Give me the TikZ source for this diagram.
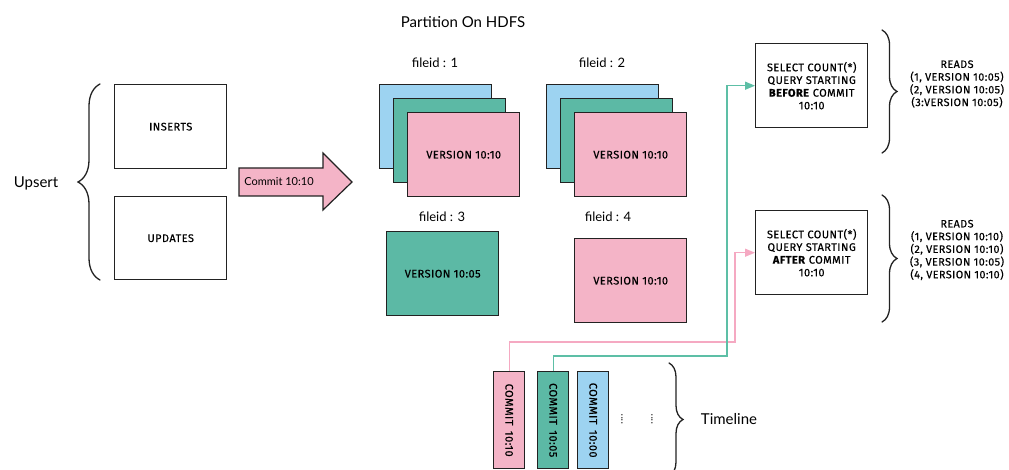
\documentclass[tikz,border=0pt]{standalone}
\usepackage{fontspec}
\setmainfont{Lato}
\newfontfamily\capsfont{Fira Sans}[LetterSpace=4, FakeBold=0.4]
\usetikzlibrary{decorations.pathreplacing,arrows.meta}

\definecolor{skyfill}{HTML}{9DD3F1}
\definecolor{tealfill}{HTML}{5CB9A5}
\definecolor{rosefill}{HTML}{F4B4C7}
\definecolor{roseline}{HTML}{F5A9C2}
\definecolor{tealline}{HTML}{5DBFA6}
\definecolor{ink}{HTML}{222222}

\tikzset{
  box/.style={draw=ink, line width=1.4pt, anchor=north west, inner sep=0pt, align=center},
  filebox/.style={box, minimum width=112pt, minimum height=84pt},
  commitbox/.style={box, minimum width=31pt, minimum height=97pt},
  caps/.style={font=\capsfont\fontsize{11}{12.7}\selectfont},
  readscaps/.style={font=\capsfont\fontsize{10.8}{12.7}\selectfont, align=center},
  title/.style={font=\fontsize{15}{18}\selectfont},
  label/.style={font=\fontsize{13}{15}\selectfont},
  curly/.style={draw=ink, line width=1.3pt, line cap=round, decorate, decoration={brace, amplitude=#1}},
  link/.style={line width=1.3pt, -{Triangle[length=10pt,width=8pt]}},
  ellip/.style={rotate=90, font=\fontsize{11}{11}\selectfont, text=ink},
}

\begin{document}
\begin{tikzpicture}[x=1pt,y=-1pt]
\useasboundingbox (0,0) rectangle (1009,470);

% --- incoming writes -------------------------------------------------
\node[title] (upsert) at (36,183) {Upsert};
\draw[curly=22] (100,280) -- (100,84);
\node[box, minimum width=112pt, minimum height=84pt, caps] (inserts) at (114,84) {INSERTS};
\node[box, minimum width=112pt, minimum height=83pt, caps] (updates) at (114,196) {UPDATES};

% commit arrow
\draw[draw=ink, line width=1.2pt, fill=rosefill, line join=miter]
  (239,168) -- (323,168) -- (323,153) -- (352,182) -- (323,210) -- (323,196) -- (239,196) -- cycle;
\node[font=\fontsize{11}{13}\selectfont] (commitlbl) at (279,182) {Commit 10:10};

% --- partition on HDFS ------------------------------------------------
\node[title] (partition) at (463,22) {Partition On HDFS};

\node[label] (fid1) at (435,63) {fileid : 1};
\node[filebox, fill=skyfill] (f1a) at (379,84) {};
\node[filebox, fill=tealfill] (f1b) at (393,98) {};
\node[filebox, fill=rosefill, caps] (f1c) at (407,112) {VERSION 10:10};

\node[label] (fid2) at (602,63) {fileid : 2};
\node[filebox, fill=skyfill] (f2a) at (546,84) {};
\node[filebox, fill=tealfill] (f2b) at (560,98) {};
\node[filebox, fill=rosefill, caps] (f2c) at (574,112) {VERSION 10:10};

\node[label] (fid3) at (442,217) {fileid : 3};
\node[filebox, fill=tealfill, caps] (f3) at (386,231) {VERSION 10:05};

\node[label] (fid4) at (608,217) {fileid : 4};
\node[filebox, fill=rosefill, caps] (f4) at (574,238) {VERSION 10:10};

% --- queries ----------------------------------------------------------
\node[filebox, caps] (q1) at (755,43) {SELECT COUNT(*)\\QUERY STARTING\\\textbf{BEFORE} COMMIT\\10:10};
\node[filebox, caps] (q2) at (755,210) {SELECT COUNT(*)\\QUERY STARTING\\\textbf{AFTER} COMMIT\\10:10};

\draw[curly=15] (882,30) -- (882,153);
\draw[curly=15] (882,195) -- (882,322);

\node[readscaps] (reads1) at (957,84) {READS\\(1, VERSION 10:05)\\(2, VERSION 10:05)\\(3:VERSION 10:05)};
\node[readscaps] (reads2) at (957,250) {READS\\(1, VERSION 10:10)\\(2, VERSION 10:10)\\(3, VERSION 10:05)\\(4, VERSION 10:10)};

% --- timeline ---------------------------------------------------------
\node[commitbox, fill=rosefill] (cA) at (493,371) {};
\node[commitbox, fill=tealfill] (cB) at (537,371) {};
\node[commitbox, fill=skyfill] (cC) at (577,371) {};
\node[caps, rotate=-90] (cAt) at (cA.center) {COMMIT\enspace 10:10};
\node[caps, rotate=-90] (cBt) at (cB.center) {COMMIT\enspace 10:05};
\node[caps, rotate=-90] (cCt) at (cC.center) {COMMIT\enspace 10:00};

\node[ellip] (dotsA) at (622,419) {....};
\node[ellip] (dotsB) at (652,419) {....};

\draw[curly=14] (669,363) -- (669,476);
\node[title] (timeline) at (729,419) {Timeline};

% --- which commit each query sees ----------------------------------------
\coordinate (rosebend) at (735,342);
\coordinate (tealbend) at (727,356);
\draw[link, roseline] (cA.north) |- (rosebend) |- (q2.west);
\draw[link, tealline] (cB.north) |- (tealbend) |- (q1.west);
\end{tikzpicture}
\end{document}
